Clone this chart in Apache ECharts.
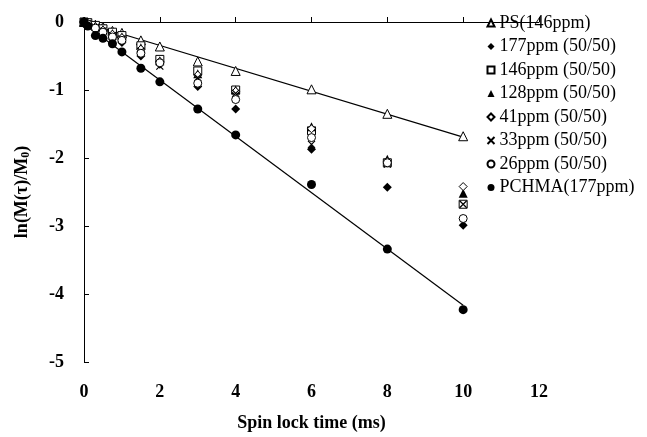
<!DOCTYPE html>
<html>
<head>
<meta charset="utf-8">
<script src="https://cdn.jsdelivr.net/npm/echarts@6/dist/echarts.min.js"></script>
<style>
    html, body { margin: 0; padding: 0; background: #fff; }
    #main { width: 647px; height: 437px; }
</style>
</head>
<body>
<div id="main"></div>
<script>
// spin lock times (ms)
var times = [0, 0.1, 0.3, 0.5, 0.75, 1, 1.5, 2, 3, 4, 6, 8, 10];

// ln(M(t)/M0) per sample
var ps146 = [0, -0.01, -0.04, -0.07, -0.13, -0.16, -0.27, -0.36, -0.58, -0.72, -0.99, -1.35, -1.68];
var ppm177 = [0, -0.03, -0.10, -0.17, -0.25, -0.30, -0.50, -0.62, -0.95, -1.28, -1.87, -2.43, -2.99];
var ppm146 = [0, -0.01, -0.05, -0.10, -0.15, -0.20, -0.35, -0.55, -0.72, -1.00, -1.60, -2.07, -2.68];
var ppm128 = [0, -0.02, -0.06, -0.11, -0.17, -0.22, -0.38, -0.57, -0.76, -1.00, -1.54, -2.02, -2.52];
var ppm41 = [0, -0.02, -0.07, -0.12, -0.18, -0.23, -0.40, -0.58, -0.78, -1.02, -1.57, -2.05, -2.42];
var ppm33 = [0, -0.02, -0.08, -0.13, -0.20, -0.25, -0.43, -0.65, -0.82, -1.05, -1.80, -2.09, -2.68];
var ppm26 = [0, -0.03, -0.09, -0.15, -0.22, -0.27, -0.46, -0.60, -0.90, -1.14, -1.70, -2.07, -2.89];
var pchma177 = [0, -0.06, -0.20, -0.24, -0.32, -0.44, -0.68, -0.88, -1.28, -1.66, -2.39, -3.34, -4.23];

var names = ['PS(146ppm)', '177ppm (50/50)', '146ppm (50/50)', '128ppm (50/50)',
    '41ppm (50/50)', '33ppm (50/50)', '26ppm (50/50)', 'PCHMA(177ppm)'];

function pairs(ys) {
    return times.map(function (t, i) { return [t, ys[i]]; });
}

// least squares line through the points, drawn over the data range
function fitLine(ys) {
    var n = times.length, sx = 0, sy = 0, sxx = 0, sxy = 0;
    for (var i = 0; i < n; i++) {
        sx += times[i]; sy += ys[i];
        sxx += times[i] * times[i]; sxy += times[i] * ys[i];
    }
    var b = (n * sxy - sx * sy) / (n * sxx - sx * sx);
    var a = (sy - b * sx) / n;
    var x0 = times[0], x1 = times[n - 1];
    return [[x0, a + b * x0], [x1, a + b * x1]];
}

var FONT = '"Liberation Serif", "Times New Roman", serif';
var openStyle = { color: '#fff', borderColor: '#000', borderWidth: 1, opacity: 1 };
var fillStyle = { color: '#000', borderColor: '#000', borderWidth: 0, opacity: 1 };
var crossStyle = { color: 'none', borderColor: '#000', borderWidth: 1.2, opacity: 1 };

function scatter(name, ys, symbol, size, style) {
    return {
        name: name,
        type: 'scatter',
        symbol: symbol,
        symbolSize: size,
        itemStyle: style,
        data: pairs(ys),
        z: 3
    };
}

function fit(ys) {
    return {
        type: 'line',
        data: fitLine(ys),
        showSymbol: false,
        silent: true,
        lineStyle: { color: '#000', width: 1.2 },
        z: 2
    };
}

var chart = echarts.init(document.getElementById('main'));
var option = {
    animation: false,
    backgroundColor: '#fff',
    grid: {
        left: 84,
        right: 108,
        top: 22,
        bottom: 71
    },
    legend: {
        data: names,
        orient: 'vertical',
        left: 480,
        top: 9,
        itemWidth: 7,
        itemHeight: 7,
        itemGap: 5.5,
        textStyle: {
            fontFamily: FONT,
            fontSize: 18,
            color: '#000'
        }
    },
    xAxis: {
        type: 'value',
        min: 0,
        max: 12,
        interval: 2,
        name: 'Spin lock time (ms)',
        nameLocation: 'middle',
        nameGap: 52,
        nameTextStyle: { fontFamily: FONT, fontSize: 18, fontWeight: 'bold', color: '#000' },
        axisLine: { lineStyle: { color: '#000', width: 1 } },
        axisTick: { inside: true, length: 5, lineStyle: { color: '#000' } },
        axisLabel: { margin: 21, fontFamily: FONT, fontSize: 18, fontWeight: 'bold', color: '#000' },
        splitLine: { show: false }
    },
    yAxis: {
        type: 'value',
        min: -5,
        max: 0,
        interval: 1,
        name: '{a|ln(M(τ)/M}{b|0}{a|)}',
        nameLocation: 'middle',
        nameGap: 52,
        nameRotate: 90,
        nameTextStyle: {
            color: '#000',
            rich: {
                a: { fontFamily: FONT, fontSize: 18, fontWeight: 'bold', color: '#000' },
                b: { fontFamily: FONT, fontSize: 12, fontWeight: 'bold', color: '#000', verticalAlign: 'bottom', padding: [8, 0, 0, 0] }
            }
        },
        axisLine: { show: true, lineStyle: { color: '#000', width: 1 } },
        axisTick: { show: true, inside: true, length: 5, lineStyle: { color: '#000' } },
        axisLabel: { margin: 20, fontFamily: FONT, fontSize: 18, fontWeight: 'bold', color: '#000' },
        splitLine: { show: false }
    },
    series: [
        fit(ps146),
        fit(pchma177),
        scatter(names[0], ps146, 'triangle', 9, openStyle),
        scatter(names[1], ppm177, 'diamond', 9, fillStyle),
        scatter(names[2], ppm146, 'rect', 8, openStyle),
        scatter(names[3], ppm128, 'triangle', 9, fillStyle),
        scatter(names[4], ppm41, 'diamond', 8, openStyle),
        scatter(names[5], ppm33, 'path://M0,0L10,10M10,0L0,10', 7, crossStyle),
        scatter(names[6], ppm26, 'circle', 8, openStyle),
        scatter(names[7], pchma177, 'circle', 9, fillStyle)
    ]
};
chart.setOption(option);
</script>
</body>
</html>
